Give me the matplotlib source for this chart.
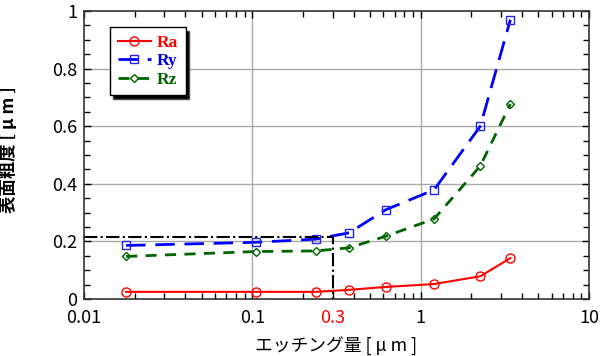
import matplotlib
matplotlib.use("Agg")
import matplotlib.pyplot as plt
from matplotlib.ticker import MultipleLocator, NullFormatter

plt.rcParams['font.family'] = ['Noto Sans CJK JP', 'DejaVu Sans']

etch = [0.0178, 0.105, 0.238, 0.376, 0.62, 1.2, 2.26, 3.41]
ra = [0.025, 0.025, 0.025, 0.032, 0.042, 0.052, 0.079, 0.142]
ry = [0.186, 0.197, 0.208, 0.230, 0.310, 0.379, 0.600, 0.970]
rz = [0.148, 0.165, 0.167, 0.178, 0.218, 0.278, 0.462, 0.677]
ref_x = 0.3
ref_y = 0.217
xticks = [0.01, 0.1, 0.3, 1, 10]
xticklabels = ['0.01', '0.1', '0.3', '1', '10']
yticks = [0, 0.2, 0.4, 0.6, 0.8, 1]
yticklabels = ['0', '0.2', '0.4', '0.6', '0.8', '1']

fig = plt.figure(figsize=(6, 3.56), dpi=100)
ax = fig.add_axes([0.14, 0.16, 0.8417, 0.809])

ax.plot(etch, ra, color='#ff0000', lw=1.5, marker='o', ms=6.5, mfc='none', mec='#ff0000', mew=1, label='Ra')
ax.plot(etch, ry, color='#0000ff', lw=2, ls=(0, (7, 3.5)), marker='s', ms=6, mfc='none', mec='#2222ee', mew=1, label='Ry')
ax.plot(etch, rz, color='#006400', lw=2, ls=(0, (4, 3)), marker='D', ms=4.5, mfc='none', mec='#006400', mew=1, label='Rz')

ax.plot([0.01, ref_x, ref_x], [ref_y, ref_y, 0], color='black', lw=1.5, ls='-.')

ax.set_xscale('log')
ax.set_xlim(0.01, 10)
ax.set_ylim(0, 1)
ax.set_xticks(xticks)
ax.set_xticklabels(xticklabels)
ax.set_yticks(yticks)
ax.set_yticklabels(yticklabels)
ax.yaxis.set_minor_locator(MultipleLocator(0.05))
ax.xaxis.set_minor_formatter(NullFormatter())

ax.tick_params(which='both', direction='in', top=True, right=True, labelsize=13, colors='black')
ax.tick_params(which='major', length=5, width=1)
ax.tick_params(axis='x', which='major', pad=7)
ax.tick_params(axis='y', which='major', pad=5)
ax.tick_params(which='minor', length=4, width=1)
ax.get_xticklabels()[2].set_color('#ff0000')

for xv in [0.1, 1]:
    ax.axvline(xv, color='#aaaaaa', lw=1, zorder=0)
for yv in [0.2, 0.4, 0.6, 0.8]:
    ax.axhline(yv, color='#aaaaaa', lw=1, zorder=0)

for s in ax.spines.values():
    s.set_linewidth(1.2)
    s.set_color('#333333')

ax.set_xlabel('エッチング量 [ μ m ]', fontsize=12.8)
ax.xaxis.set_label_coords(0.5, -0.132)
ax.set_ylabel('表面粗度 [ μ m ]', fontsize=12.5, fontweight='bold')
ax.yaxis.set_label_coords(-0.13, 0.52)

leg = ax.legend(loc='upper left', bbox_to_anchor=(0.0515, 0.944), borderaxespad=0, frameon=True, fancybox=False,
                shadow={'ox': 2.5, 'oy': -2.5, 'facecolor': 'black', 'alpha': 1},
                edgecolor='black', framealpha=1, handlelength=1.9, handletextpad=0.35,
                borderpad=0.45, labelspacing=0.12,
                prop={'family': 'Liberation Serif', 'weight': 'bold', 'size': 12.5})
leg.get_frame().set_linewidth(1)
for t, c in zip(leg.get_texts(), ['#ff0000', '#0000ee', '#006400']):
    t.set_color(c)

fig.savefig('out.png', dpi=100)
